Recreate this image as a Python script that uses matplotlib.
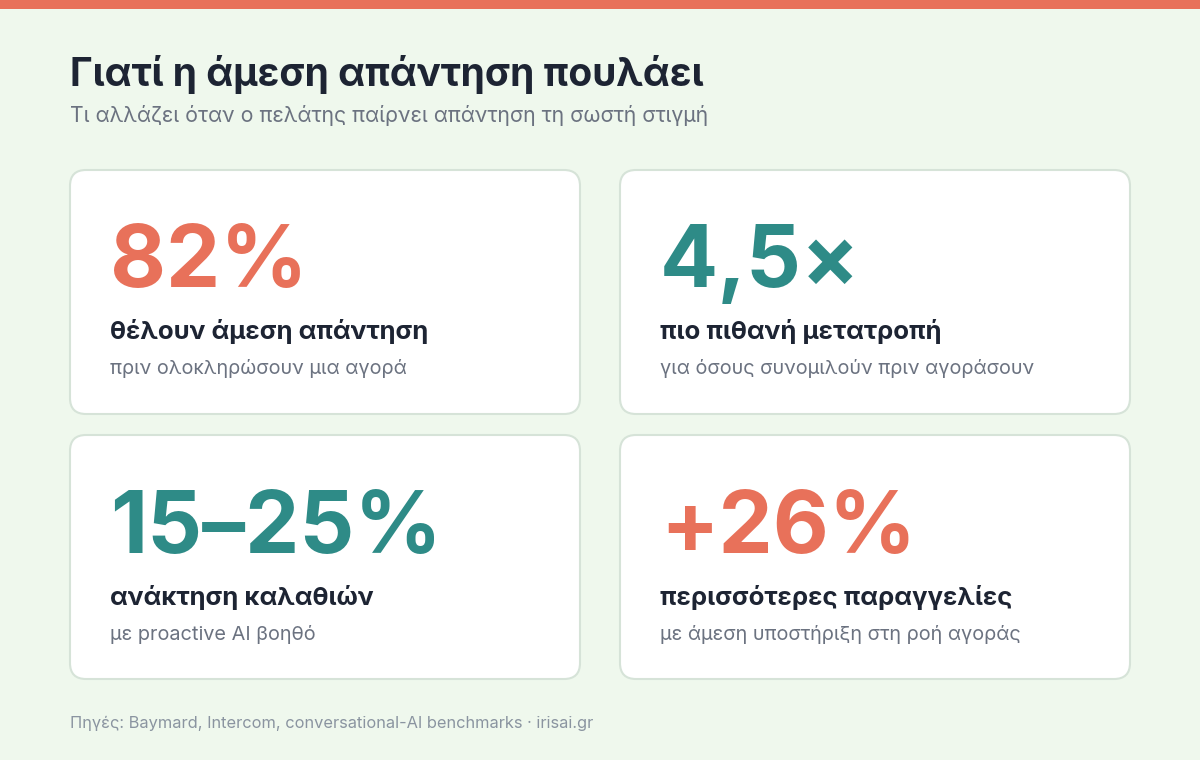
import matplotlib
matplotlib.use("Agg")
import matplotlib.pyplot as plt
from matplotlib.patches import FancyBboxPatch, Rectangle

plt.rcParams['font.family'] = ['Inter', 'DejaVu Sans']

title = "Γιατί η άμεση απάντηση πουλάει"
subtitle = "Τι αλλάζει όταν ο πελάτης παίρνει απάντηση τη σωστή στιγμή"
values = ["82%", "4,5×", "15–25%", "+26%"]
labels = ["θέλουν άμεση απάντηση", "πιο πιθανή μετατροπή",
          "ανάκτηση καλαθιών", "περισσότερες παραγγελίες"]
notes = ["πριν ολοκληρώσουν μια αγορά", "για όσους συνομιλούν πριν αγοράσουν",
         "με proactive AI βοηθό", "με άμεση υποστήριξη στη ροή αγοράς"]
value_colors = ["#e8715a", "#2e8b87", "#2e8b87", "#e8715a"]
footer = "Πηγές: Baymard, Intercom, conversational-AI benchmarks · irisai.gr"

W, H = 1200, 760
fig = plt.figure(figsize=(12, 7.6), dpi=100)
fig.patch.set_facecolor("#eff8ed")
ax = fig.add_axes([0, 0, 1, 1])
ax.set_xlim(0, W)
ax.set_ylim(H, 0)
ax.axis("off")

ax.add_patch(Rectangle((0, 0), W, 9, color="#e8715a", lw=0))
ax.text(70, 75, title, fontsize=28, fontweight="bold", color="#1d2433", va="center")
ax.text(70, 116, subtitle, fontsize=15.3, color="#6b7280", va="center")

cards = [(70, 170), (620, 170), (70, 435), (620, 435)]
cw, ch = 510, 244
for i, (x, y) in enumerate(cards):
    ax.add_patch(FancyBboxPatch((x, y), cw, ch, boxstyle="round,pad=0,rounding_size=16",
                                fc="white", ec="#d6e3d8", lw=1.5))
    ax.text(x + 40, y + 95, values[i], fontsize=62, fontweight="bold",
            color=value_colors[i], va="center")
    ax.text(x + 40, y + 162, labels[i], fontsize=18.5, fontweight="bold",
            color="#1d2433", va="center")
    ax.text(x + 40, y + 199, notes[i], fontsize=14.3, color="#6b7280", va="center")

ax.text(70, 723, footer, fontsize=11.8, color="#8a94a0", va="center")

fig.savefig("out.png", dpi=100, facecolor=fig.get_facecolor())
